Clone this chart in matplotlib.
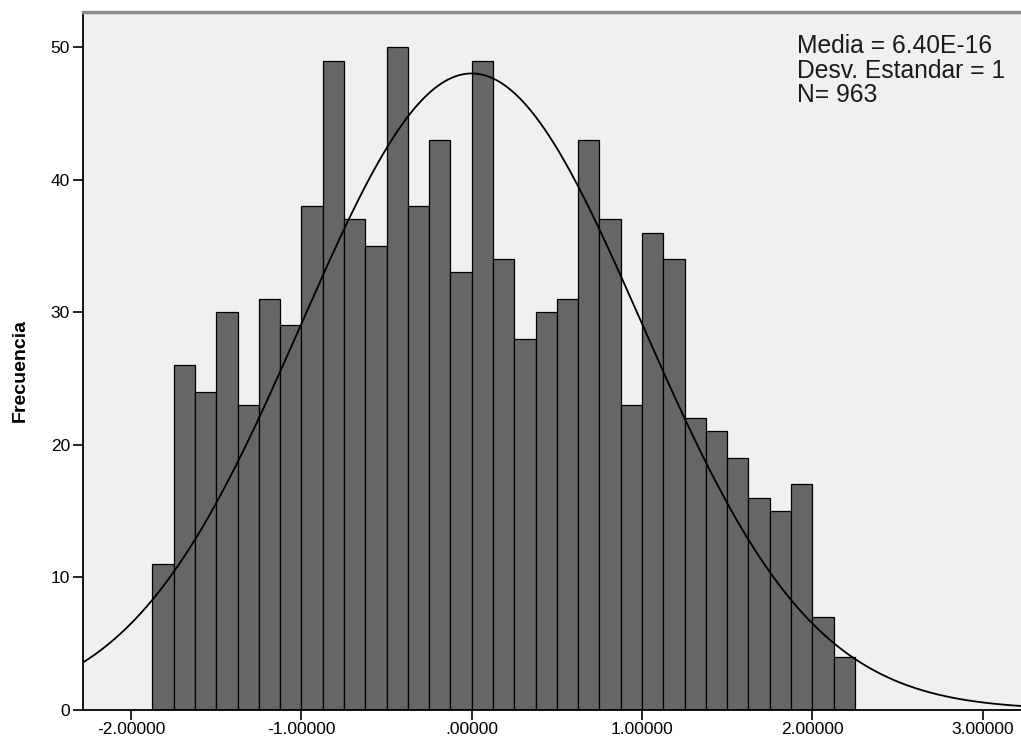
import numpy as np
import matplotlib
matplotlib.use("Agg")
import matplotlib.pyplot as plt

plt.rcParams['font.family'] = ['Liberation Sans', 'DejaVu Sans']

# histogram counts per bin (bins of width 0.125 starting at -1.875)
counts = [11, 26, 24, 30, 23, 31, 29, 38, 49, 37, 35, 50, 38, 43, 33, 49, 34,
          28, 30, 31, 43, 37, 23, 36, 34, 22, 21, 19, 16, 15, 17, 7, 4]
bin_start = -1.875
bin_width = 0.125
mean = 6.40e-16
std = 1.0
x_ticks = [-2, -1, 0, 1, 2, 3]
y_ticks = [0, 10, 20, 30, 40, 50]
stats_lines = ["Media = 6.40E-16", "Desv. Estandar = 1", "N= 963"]

n = sum(counts)
edges = bin_start + bin_width * np.arange(len(counts) + 1)

W, H = 1021, 747
fig = plt.figure(figsize=(W / 100, H / 100), dpi=100)
ax = fig.add_axes([82.5 / W, (H - 709.5) / H, (1030 - 82.5) / W, (709.5 - 11.5) / H])
ax.set_facecolor('#f0f0f0')

ax.bar(edges[:-1], counts, width=bin_width, align='edge',
       color='#666666', edgecolor='black', linewidth=0.9, zorder=2)

px_per_unit = 170.3
x0_px = 471.7
xmin = (82.5 - x0_px) / px_per_unit
xmax = (1030 - x0_px) / px_per_unit
xs = np.linspace(xmin, xmax, 600)
pdf = np.exp(-0.5 * ((xs - mean) / std) ** 2) / (std * np.sqrt(2 * np.pi))
ax.plot(xs, n * bin_width * pdf, color='black', linewidth=1.3, zorder=3)

ax.set_xlim(xmin, xmax)
ax.set_ylim(0, 52.7)

def fmt(v):
    s = "%.5f" % v
    if s.startswith("0"):
        s = s[1:]
    return s

ax.set_xticks(x_ticks)
ax.set_xticklabels([fmt(v) for v in x_ticks])
ax.set_yticks(y_ticks)
ax.tick_params(axis='both', direction='out', length=7, width=1.2,
               labelsize=12.5, color='black', pad=2)

ax.spines['right'].set_visible(False)
ax.spines['top'].set_color('#8a8a8a')
ax.spines['top'].set_linewidth(2.5)
ax.spines['left'].set_linewidth(1.3)
ax.spines['bottom'].set_linewidth(1.3)

fig.text(20 / W, 1 - 371 / H, "Frecuencia", rotation=90, fontsize=14,
         fontweight='bold', ha='center', va='center')

for i, line in enumerate(stats_lines):
    fig.text(796.5 / W, 1 - (53.3 + 24.2 * i) / H, line, fontsize=17.7,
             ha='left', va='baseline', color='#1a1a1a')

fig.savefig("out.png", dpi=100)
